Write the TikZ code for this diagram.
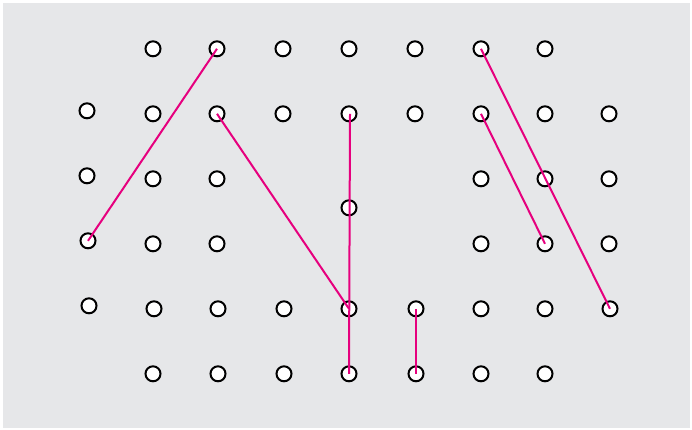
\documentclass[tikz,border=0pt]{standalone}
\begin{document}
\begin{tikzpicture}[x=1pt,y=-1pt,
  peg/.style={circle,draw=black,fill=white,line width=2pt,minimum size=15pt,inner sep=0pt},
  band/.style={draw=magentaline,line width=2pt}]
\definecolor{magentaline}{HTML}{E6007E}
\definecolor{bggray}{HTML}{E6E7E9}
\useasboundingbox (0,0) rectangle (692,430);
\fill[bggray] (3,3) rectangle (690,428);
\begin{scope}[yshift=-0.8pt]
% row 1
\foreach \x/\n in {153/2,217/3,283/4,349/5,415/6,481/7,545/8}
  \node[peg] (a\n) at (\x,48) {};
% row 2
\node[peg] (b1) at (87,110) {};
\foreach \x/\n in {153/2,217/3,283/4,349/5,415/6,481/7,545/8,609/9}
  \node[peg] (b\n) at (\x,113) {};
% row 3
\node[peg] (c1) at (87,175) {};
\foreach \x/\n in {153/2,217/3,481/7,545/8,609/9}
  \node[peg] (c\n) at (\x,178) {};
\node[peg] (m5) at (349,207) {};
% row 4
\node[peg] (d1) at (88,240) {};
\foreach \x/\n in {153/2,217/3,481/7,545/8,609/9}
  \node[peg] (d\n) at (\x,243) {};
% row 5
\node[peg] (e1) at (89,305) {};
\foreach \x/\n in {154/2,218/3,284/4,349/5,416/6,481/7,545/8,610/9}
  \node[peg] (e\n) at (\x,308) {};
% row 6
\foreach \x/\n in {153/2,218/3,284/4,349/5,416/6,481/7,545/8}
  \node[peg] (f\n) at (\x,373) {};
% bands
\draw[band] (a3.center) -- (d1.center);
\draw[band] (b3.center) -- (e5.center);
\draw[band] ([xshift=1pt]b5.center) -- (f5.center);
\draw[band] (e6.center) -- (f6.center);
\draw[band] (a7.center) -- (e9.center);
\draw[band] (b7.center) -- (d8.center);
\end{scope}
\end{tikzpicture}
\end{document}
